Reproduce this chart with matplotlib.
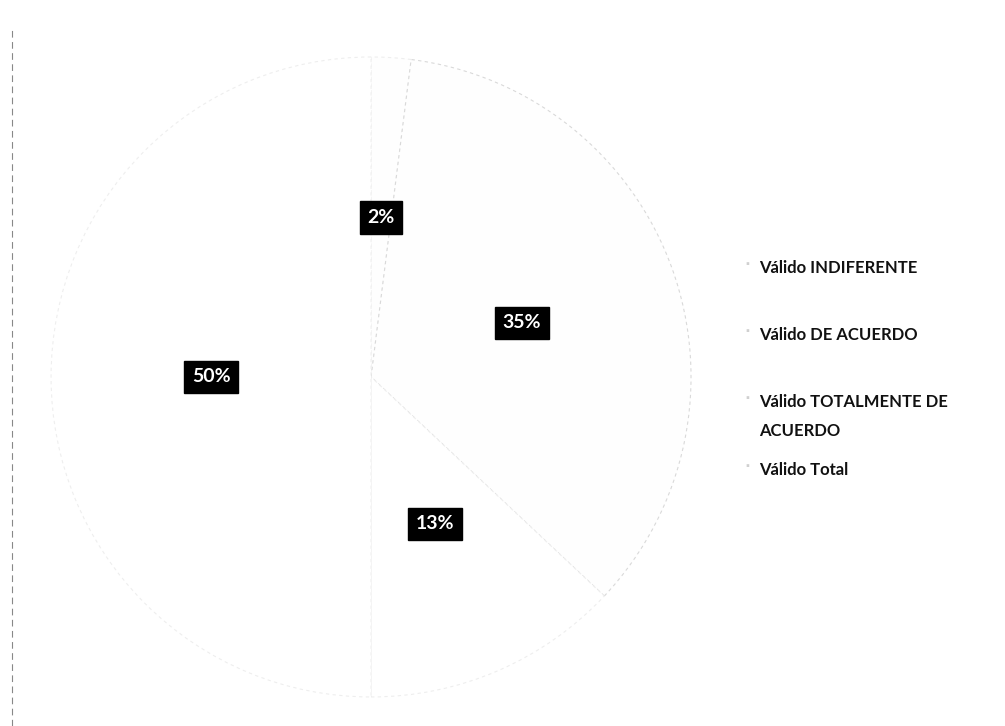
import matplotlib
matplotlib.use("Agg")
from matplotlib import pyplot as plt
from matplotlib.lines import Line2D

plt.rcParams['font.family'] = ['Lato', 'DejaVu Sans']

categories = ['Válido INDIFERENTE', 'Válido DE ACUERDO',
              'Válido TOTALMENTE DE\nACUERDO', 'Válido Total']
percentages = [2, 35, 13, 50]
colors = ['#fefefe', '#fefefe', '#ffffff', '#ffffff']
legend_y = [0.642, 0.550, 0.457, 0.364]

fig = plt.figure(figsize=(10.05, 7.26), dpi=100)
ax = fig.add_axes([0.0507, 0.040, 0.637, 0.8815])

wedges, texts, autotexts = ax.pie(
    percentages, colors=colors, startangle=90, counterclock=False,
    autopct='%1.0f%%', pctdistance=0.5,
    wedgeprops=dict(edgecolor='#eeeeee', linewidth=0.8, linestyle=(0, (3, 3))),
    textprops=dict(color='white', fontsize=14, fontweight='bold'))
for t in autotexts:
    t.set_bbox(dict(facecolor='black', edgecolor='black', boxstyle='square,pad=0.4'))
# the boundary between INDIFERENTE and DE ACUERDO shows a little in the scan
wedges[1].set_edgecolor('#d9d9d9')
ax.set_xlim(-1, 1)
ax.set_ylim(-1, 1)
ax.set_aspect('equal')

# legend entries, drawn as text so the wrapped entry keeps its own spacing
for lab, y, c in zip(categories, legend_y, colors):
    fig.text(0.742, y, '\u25aa', color='#d0d0d0', fontsize=7, va='top')
    fig.text(0.755, y, lab, fontsize=12, fontweight='bold', color='#111111',
             va='top', linespacing=2.0)

# faint frame edge on the left of the scan
fig.add_artist(Line2D([0.012, 0.012], [0.0, 0.96], transform=fig.transFigure,
                      color='#888888', linewidth=0.8, linestyle=(0, (6, 4))))

fig.savefig('out.png', dpi=100)
